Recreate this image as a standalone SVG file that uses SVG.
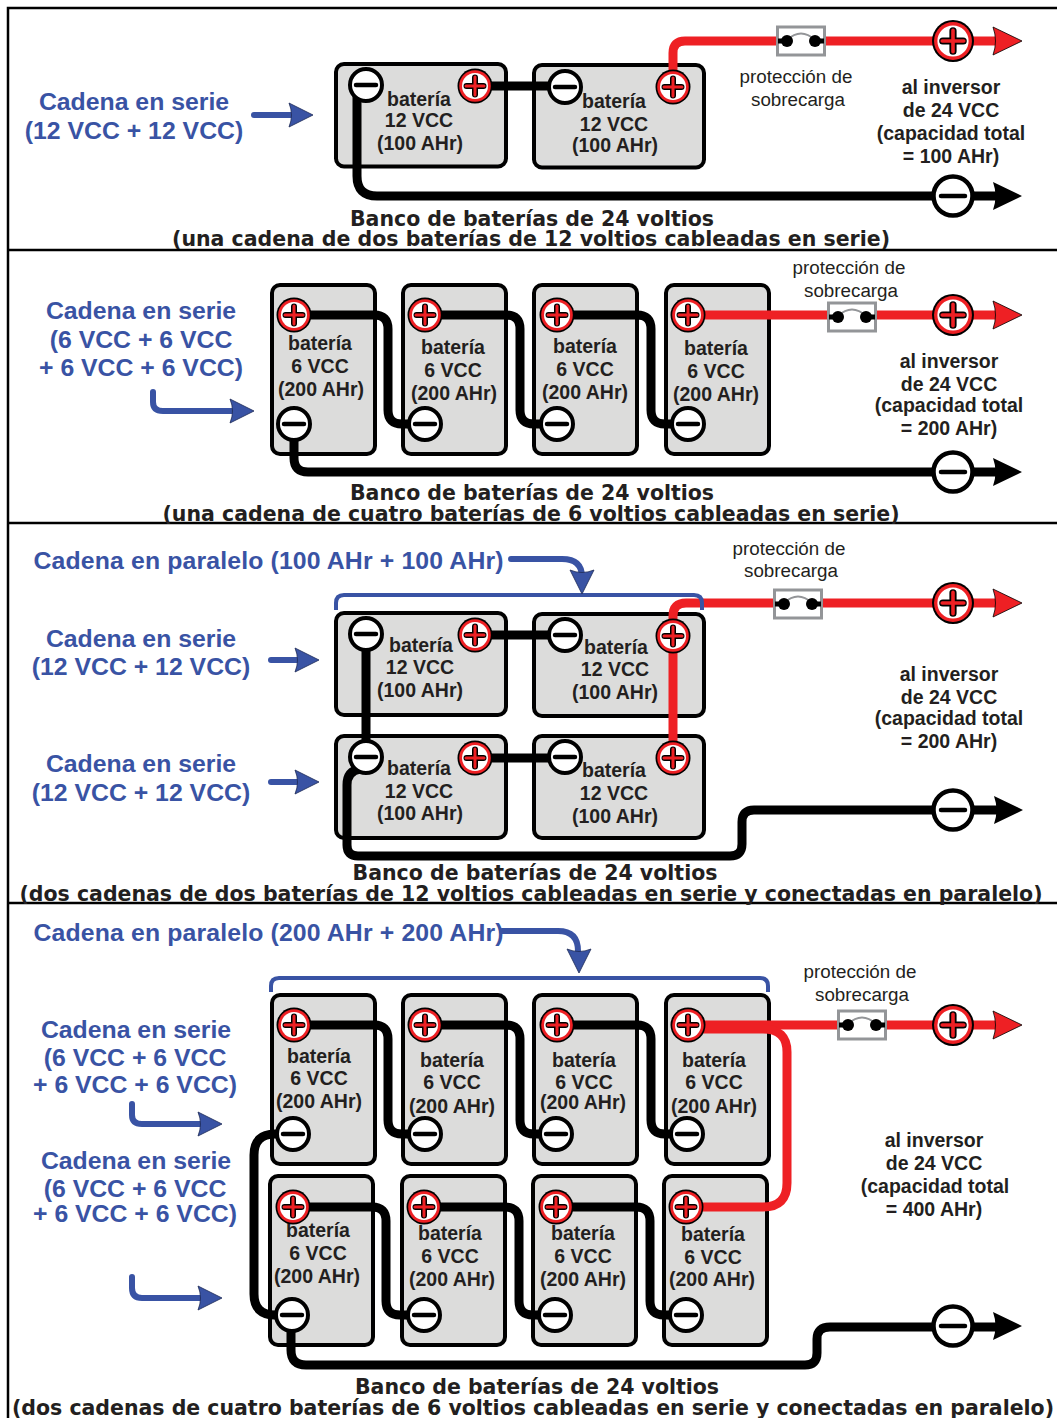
<svg xmlns="http://www.w3.org/2000/svg" width="1057" height="1418" viewBox="0 0 1057 1418">
<style>
text{font-family:"Liberation Sans",Arial,sans-serif;fill:#231f20;text-anchor:middle}
.b{font-size:19.5px;font-weight:700}
.inv{font-size:19.5px;font-weight:700}
.p{font-size:18.8px}
.blue{font-size:24.8px;font-weight:700;fill:#3953a4}
.t{font-family:"DejaVu Sans",Verdana,sans-serif;font-size:20.5px;font-weight:700}
.body{fill:#dcdcdb;stroke:#000;stroke-width:4}
.k,.r,.bl{fill:none;stroke-linecap:butt;stroke-linejoin:round}
.k{stroke:#000;stroke-width:9}
.r{stroke:#ee2024;stroke-width:9}
.bl{stroke:#3953a4;stroke-width:6;stroke-linecap:round}
.br{fill:none;stroke:#3953a4;stroke-width:4}
.fr{stroke:#000;stroke-width:2.5;fill:none}
</style>
<defs>
<g id="plus"><circle r="17.5" fill="#000"/><circle r="15.8" fill="#ee2024"/><circle r="13" fill="#fff"/><path d="M-8.5 0H8.500M0-8.500V8.500" stroke="#000" stroke-width="6" stroke-linecap="round"/><path d="M-9 0H9M0-9V9" stroke="#ee2024" stroke-width="3" stroke-linecap="round"/></g>
<g id="minus"><circle r="16" fill="#fff" stroke="#000" stroke-width="4"/><path d="M-10 0H10" stroke="#000" stroke-width="4.500" stroke-linecap="round"/></g>
<g id="plusL"><use href="#plus" transform="scale(1.2)"/></g>
<g id="minusL"><circle r="19.5" fill="#fff" stroke="#000" stroke-width="4.500"/><path d="M-12 0H12" stroke="#000" stroke-width="4.500" stroke-linecap="round"/></g>
<path id="headR" d="M-1-14Q4 0-1 14L28 0Z" fill="#ee2024" stroke="#000" stroke-width=".8"/>
<path id="headK" d="M-1-14Q4 0-1 14L28 0Z" fill="#000"/>
<path id="headB" d="M-6-12Q-1 0-6 12L18 0Z" fill="#3953a4" stroke="#1d2a55" stroke-width=".8"/>
<g id="fuse"><rect x="-23.5" y="-14" width="47" height="28" fill="#fff" stroke="#939598" stroke-width="3"/><path d="M-14-1Q0-14 14-1" fill="none" stroke="#939598" stroke-width="2"/><path d="M-23 0H-14M14 0H23" stroke="#000" stroke-width="5"/><circle cx="-14" r="6" fill="#000"/><circle cx="14" r="6" fill="#000"/></g>
</defs>
<rect width="1057" height="1418" fill="#fff"/>

<g id="frame" class="fr"><path d="M8 1418V8H1057M8 250H1057M8 523H1057M8 903H1057"/></g>

<g id="bat-1-1"><rect class="body" x="336" y="64" width="170" height="102.500" rx="8"/><text class="b" x="419" y="106">batería</text><text class="b" x="419" y="127">12 VCC</text><text class="b" x="420" y="150">(100 AHr)</text></g>
<g id="bat-1-2"><rect class="body" x="534" y="65" width="170" height="102.500" rx="8"/><text class="b" x="614" y="108">batería</text><text class="b" x="614" y="131">12 VCC</text><text class="b" x="615" y="152">(100 AHr)</text></g>

<g id="bat-2-1"><rect class="body" x="272" y="285" width="103" height="169" rx="8"/><text class="b" x="320" y="350">batería</text><text class="b" x="320" y="373">6 VCC</text><text class="b" x="321" y="396">(200 AHr)</text></g>
<g id="bat-2-2"><rect class="body" x="403" y="285" width="103" height="169" rx="8"/><text class="b" x="453" y="354">batería</text><text class="b" x="453" y="377">6 VCC</text><text class="b" x="454" y="400">(200 AHr)</text></g>
<g id="bat-2-3"><rect class="body" x="534" y="285" width="103" height="169" rx="8"/><text class="b" x="585" y="353">batería</text><text class="b" x="585" y="376">6 VCC</text><text class="b" x="585" y="399">(200 AHr)</text></g>
<g id="bat-2-4"><rect class="body" x="666" y="285" width="103" height="169" rx="8"/><text class="b" x="716" y="355">batería</text><text class="b" x="716" y="378">6 VCC</text><text class="b" x="716" y="401">(200 AHr)</text></g>

<g id="bat-3-1"><rect class="body" x="336" y="613" width="170" height="102" rx="8"/><text class="b" x="421" y="652">batería</text><text class="b" x="420" y="674">12 VCC</text><text class="b" x="420" y="697">(100 AHr)</text></g>
<g id="bat-3-2"><rect class="body" x="534" y="614" width="170" height="102" rx="8"/><text class="b" x="616" y="654">batería</text><text class="b" x="615" y="676">12 VCC</text><text class="b" x="615" y="699">(100 AHr)</text></g>
<g id="bat-3-3"><rect class="body" x="336" y="736" width="170" height="102" rx="8"/><text class="b" x="419" y="775">batería</text><text class="b" x="419" y="798">12 VCC</text><text class="b" x="420" y="820">(100 AHr)</text></g>
<g id="bat-3-4"><rect class="body" x="534" y="736" width="170" height="102" rx="8"/><text class="b" x="614" y="777">batería</text><text class="b" x="614" y="800">12 VCC</text><text class="b" x="615" y="823">(100 AHr)</text></g>

<g id="bat-4-1"><rect class="body" x="272" y="995" width="103" height="169" rx="8"/><text class="b" x="319" y="1063">batería</text><text class="b" x="319" y="1085">6 VCC</text><text class="b" x="319" y="1108">(200 AHr)</text></g>
<g id="bat-4-2"><rect class="body" x="403" y="995" width="103" height="169" rx="8"/><text class="b" x="452" y="1067">batería</text><text class="b" x="452" y="1089">6 VCC</text><text class="b" x="452" y="1113">(200 AHr)</text></g>
<g id="bat-4-3"><rect class="body" x="534" y="995" width="103" height="169" rx="8"/><text class="b" x="584" y="1067">batería</text><text class="b" x="584" y="1089">6 VCC</text><text class="b" x="583" y="1109">(200 AHr)</text></g>
<g id="bat-4-4"><rect class="body" x="666" y="995" width="103" height="169" rx="8"/><text class="b" x="714" y="1067">batería</text><text class="b" x="714" y="1089">6 VCC</text><text class="b" x="714" y="1113">(200 AHr)</text></g>
<g id="bat-4-5"><rect class="body" x="270" y="1176" width="103" height="169" rx="8"/><text class="b" x="318" y="1237">batería</text><text class="b" x="318" y="1260">6 VCC</text><text class="b" x="317" y="1283">(200 AHr)</text></g>
<g id="bat-4-6"><rect class="body" x="402" y="1176" width="103" height="169" rx="8"/><text class="b" x="450" y="1240">batería</text><text class="b" x="450" y="1263">6 VCC</text><text class="b" x="452" y="1286">(200 AHr)</text></g>
<g id="bat-4-7"><rect class="body" x="533" y="1176" width="103" height="169" rx="8"/><text class="b" x="583" y="1240">batería</text><text class="b" x="583" y="1263">6 VCC</text><text class="b" x="583" y="1286">(200 AHr)</text></g>
<g id="bat-4-8"><rect class="body" x="664" y="1176" width="103" height="169" rx="8"/><text class="b" x="713" y="1241">batería</text><text class="b" x="713" y="1264">6 VCC</text><text class="b" x="712" y="1286">(200 AHr)</text></g>

<g id="connectors">
<path class="k" d="M357 95V176Q357 196 377 196H1000"/>
<path class="k" d="M480 86H560"/>
<path class="r" d="M673 75V53Q673 41 685 41H998"/>

<path class="k" d="M294 315H374Q388 315 388 329V410Q388 424 402 424H425"/>
<path class="k" d="M425 315H506Q520 315 520 329V410Q520 424 534 424H557"/>
<path class="k" d="M557 315H637Q651 315 651 329V410Q651 424 665 424H688"/>
<path class="r" d="M688 315H998"/>
<path class="k" d="M294 435V458Q294 472 308 472H1000"/>

<path class="r" d="M673 630V616Q673 603 686 603H998"/>
<path class="r" d="M673 640V750"/>
<path class="k" d="M366 640V750"/>
<path class="k" d="M480 635H560"/>
<path class="k" d="M480 758H560"/>
<path class="k" d="M360 769Q347 771 347 785V845Q347 856 358 856H730Q742 856 742 844V822Q742 810 754 810H1000"/>

<path class="k" d="M294 1025H374Q388 1025 388 1039V1120Q388 1134 402 1134H425"/>
<path class="k" d="M425 1025H506Q520 1025 520 1039V1120Q520 1134 534 1134H556"/>
<path class="k" d="M557 1025H637Q651 1025 651 1039V1120Q651 1134 665 1134H687"/>
<path class="k" d="M293 1207H372Q386 1207 386 1221V1301Q386 1315 400 1315H424"/>
<path class="k" d="M424 1207H505Q519 1207 519 1221V1301Q519 1315 533 1315H555"/>
<path class="k" d="M556 1207H636Q650 1207 650 1221V1301Q650 1315 664 1315H686"/>
<path class="k" d="M285 1134H275Q254 1134 254 1155V1294Q254 1315 275 1315H285"/>
<path class="k" d="M291 1325V1350Q291 1365 306 1365H805Q817 1365 817 1353V1339Q817 1327 830 1327H1000"/>
<path class="r" d="M688 1025H998"/>
<path class="r" d="M688 1207H763Q787 1207 787 1183V1052Q787 1029 763 1029H700"/>

<path class="bl" d="M254 115H292"/>
<path class="bl" d="M153 392V402Q153 411 163 411H235"/>
<path class="bl" d="M271 660H298"/>
<path class="bl" d="M271 782H298"/>
<path class="bl" d="M511 559H562Q582 559 582 577"/>
<path class="br" d="M336 610V603Q336 595 344 595H694Q702 595 702 603V610"/>
<path class="bl" d="M132 1104V1115Q132 1124 142 1124H205"/>
<path class="bl" d="M132 1277V1288Q132 1298 142 1298H205"/>
<path class="bl" d="M502 931H558Q578 931 578 951"/>
<path class="br" d="M271 992V986Q271 978 279 978H760Q768 978 768 986V992"/>

<use href="#headR" x="994" y="41"/><use href="#headK" x="994" y="196"/>
<use href="#headR" x="994" y="315"/><use href="#headK" x="994" y="472"/>
<use href="#headR" x="994" y="603"/><use href="#headK" x="995" y="810"/>
<use href="#headR" x="994" y="1025"/><use href="#headK" x="994" y="1326"/>
<use href="#headB" x="295" y="115"/>
<use href="#headB" x="236" y="411"/>
<use href="#headB" x="301" y="660"/>
<use href="#headB" x="301" y="782"/>
<use href="#headB" x="204" y="1124"/>
<use href="#headB" x="204" y="1298"/>
<use href="#headB" transform="translate(582 576) rotate(90)"/>
<use href="#headB" transform="translate(579 955) rotate(90)"/>
</g>

<g id="terminals">
<use href="#minus" x="366" y="85"/><use href="#plus" x="475" y="86"/><use href="#minus" x="565" y="87"/><use href="#plus" x="673" y="87"/>
<use href="#plus" x="294" y="315"/><use href="#plus" x="425" y="315"/><use href="#plus" x="557" y="315"/><use href="#plus" x="688" y="315"/>
<use href="#minus" x="294" y="424"/><use href="#minus" x="425" y="424"/><use href="#minus" x="557" y="424"/><use href="#minus" x="688" y="424"/>
<use href="#minus" x="366" y="634"/><use href="#plus" x="475" y="635"/><use href="#minus" x="565" y="635"/><use href="#plus" x="673" y="636"/>
<use href="#minus" x="366" y="757"/><use href="#plus" x="475" y="758"/><use href="#minus" x="565" y="757"/><use href="#plus" x="673" y="758"/>
<use href="#plus" x="294" y="1025"/><use href="#plus" x="425" y="1025"/><use href="#plus" x="557" y="1025"/><use href="#plus" x="688" y="1025"/>
<use href="#minus" x="293" y="1134"/><use href="#minus" x="425" y="1134"/><use href="#minus" x="556" y="1134"/><use href="#minus" x="687" y="1134"/>
<use href="#plus" x="293" y="1207"/><use href="#plus" x="424" y="1207"/><use href="#plus" x="556" y="1207"/><use href="#plus" x="686" y="1207"/>
<use href="#minus" x="292" y="1315"/><use href="#minus" x="424" y="1315"/><use href="#minus" x="555" y="1315"/><use href="#minus" x="686" y="1315"/>
</g>

<g id="out-1"><use href="#plusL" x="953" y="41"/><use href="#minusL" x="953" y="196"/></g>
<g id="out-2"><use href="#plusL" x="953" y="315"/><use href="#minusL" x="953" y="472"/></g>
<g id="out-3"><use href="#plusL" x="953" y="603"/><use href="#minusL" x="953" y="810"/></g>
<g id="out-4"><use href="#plusL" x="953" y="1025"/><use href="#minusL" x="953" y="1326"/></g>

<g id="fuse-1"><use href="#fuse" x="801" y="41"/><text class="p" x="796" y="83">protección de</text><text class="p" x="798" y="106">sobrecarga</text></g>
<g id="fuse-2"><use href="#fuse" x="852" y="317"/><text class="p" x="849" y="274">protección de</text><text class="p" x="851" y="297">sobrecarga</text></g>
<g id="fuse-3"><use href="#fuse" x="798" y="604"/><text class="p" x="789" y="555">protección de</text><text class="p" x="791" y="577">sobrecarga</text></g>
<g id="fuse-4"><use href="#fuse" x="862" y="1025"/><text class="p" x="860" y="978">protección de</text><text class="p" x="862" y="1001">sobrecarga</text></g>

<g id="inv-1"><text class="inv" x="951" y="94">al inversor</text><text class="inv" x="951" y="117">de 24 VCC</text><text class="inv" x="951" y="140">(capacidad total</text><text class="inv" x="951" y="163">= 100 AHr)</text></g>
<g id="inv-2"><text class="inv" x="949" y="368">al inversor</text><text class="inv" x="949" y="391">de 24 VCC</text><text class="inv" x="949" y="412">(capacidad total</text><text class="inv" x="949" y="435">= 200 AHr)</text></g>
<g id="inv-3"><text class="inv" x="949" y="681">al inversor</text><text class="inv" x="949" y="704">de 24 VCC</text><text class="inv" x="949" y="725">(capacidad total</text><text class="inv" x="949" y="748">= 200 AHr)</text></g>
<g id="inv-4"><text class="inv" x="934" y="1147">al inversor</text><text class="inv" x="934" y="1170">de 24 VCC</text><text class="inv" x="935" y="1193">(capacidad total</text><text class="inv" x="934" y="1216">= 400 AHr)</text></g>

<g id="labels">
<text class="blue" x="134" y="110">Cadena en serie</text><text class="blue" x="134" y="139">(12 VCC + 12 VCC)</text>
<text class="blue" x="141" y="319">Cadena en serie</text><text class="blue" x="141" y="348">(6 VCC + 6 VCC</text><text class="blue" x="141" y="376">+ 6 VCC + 6 VCC)</text>
<text class="blue" x="268.500" y="569" textLength="470" lengthAdjust="spacing">Cadena en paralelo (100 AHr + 100 AHr)</text>
<text class="blue" x="141" y="647">Cadena en serie</text><text class="blue" x="141" y="675">(12 VCC + 12 VCC)</text>
<text class="blue" x="141" y="772">Cadena en serie</text><text class="blue" x="141" y="801">(12 VCC + 12 VCC)</text>
<text class="blue" x="268.500" y="941" textLength="470" lengthAdjust="spacing">Cadena en paralelo (200 AHr + 200 AHr)</text>
<text class="blue" x="136" y="1038">Cadena en serie</text><text class="blue" x="135" y="1066">(6 VCC + 6 VCC</text><text class="blue" x="135" y="1093">+ 6 VCC + 6 VCC)</text>
<text class="blue" x="136" y="1169">Cadena en serie</text><text class="blue" x="135" y="1197">(6 VCC + 6 VCC</text><text class="blue" x="135" y="1222">+ 6 VCC + 6 VCC)</text>
</g>

<g id="titles">
<text class="t" x="532" y="226" textLength="364" lengthAdjust="spacing">Banco de baterías de 24 voltios</text>
<text class="t" x="531" y="246" textLength="718" lengthAdjust="spacing">(una cadena de dos baterías de 12 voltios cableadas en serie)</text>
<text class="t" x="532" y="500" textLength="364" lengthAdjust="spacing">Banco de baterías de 24 voltios</text>
<text class="t" x="531" y="521" textLength="737" lengthAdjust="spacing">(una cadena de cuatro baterías de 6 voltios cableadas en serie)</text>
<text class="t" x="535" y="880" textLength="365" lengthAdjust="spacing">Banco de baterías de 24 voltios</text>
<text class="t" x="531" y="901" textLength="1023" lengthAdjust="spacing">(dos cadenas de dos baterías de 12 voltios cableadas en serie y conectadas en paralelo)</text>
<text class="t" x="537" y="1394" textLength="364" lengthAdjust="spacing">Banco de baterías de 24 voltios</text>
<text class="t" x="533" y="1415" textLength="1042" lengthAdjust="spacing">(dos cadenas de cuatro baterías de 6 voltios cableadas en serie y conectadas en paralelo)</text>
</g>
</svg>
